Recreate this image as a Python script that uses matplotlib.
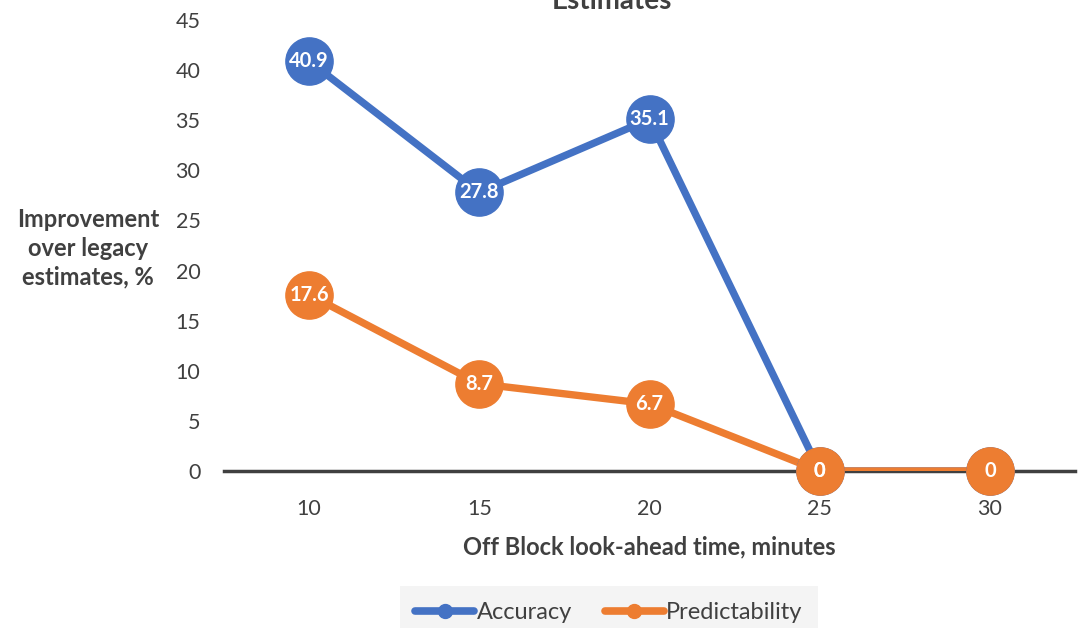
import matplotlib.pyplot as plt

look_ahead = [10, 15, 20, 25, 30]
accuracy = [40.9, 27.8, 35.1, 0, 0]
predictability = [17.6, 8.7, 6.7, 0, 0]
y_ticks = [0, 5, 10, 15, 20, 25, 30, 35, 40, 45]

BLUE = "#4472C4"
ORANGE = "#ED7D31"
TEXT = "#404040"

plt.rcParams["font.family"] = ["Lato", "DejaVu Sans"]

fig = plt.figure(figsize=(10.78, 6.28), dpi=100)
ax = fig.add_axes([224 / 1078, 1 - 471 / 628, 851 / 1078, 451 / 628])

series = [
    ("Accuracy", accuracy, BLUE),
    ("Predictability", predictability, ORANGE),
]

for name, values, color in series:
    # line clipped at the plot area, markers drawn over the edge
    ax.plot(
        look_ahead,
        values,
        color=color,
        linewidth=5.3,
        solid_capstyle="round",
        zorder=3,
    )
    ax.plot(
        look_ahead,
        values,
        linestyle="none",
        marker="o",
        markersize=34,
        color=color,
        clip_on=False,
        zorder=4,
    )
    # legend proxy
    ax.plot(
        [], [],
        color=color,
        linewidth=5.5,
        marker="o",
        markersize=10,
        solid_capstyle="round",
        label=name,
    )
    for x, v in zip(look_ahead, values):
        if name == "Accuracy" and x == 30:
            continue
        ax.text(
            x, v, f"{v:g}",
            color="white",
            fontsize=14.5,
            fontweight="bold",
            ha="center",
            va="center",
            zorder=5,
        )

ax.set_xlim(7.5, 32.5)
ax.set_ylim(0, 45)
ax.set_xticks(look_ahead)
ax.set_yticks(y_ticks)
ax.tick_params(length=0, labelsize=15.5, labelcolor=TEXT)
ax.tick_params(axis="x", pad=20)
ax.tick_params(axis="y", pad=17)

for side in ["top", "right", "left"]:
    ax.spines[side].set_visible(False)
ax.spines["bottom"].set_color("#404040")
ax.spines["bottom"].set_linewidth(2.5)
ax.spines["bottom"].set_zorder(2)

ax.set_xlabel(
    "Off Block look-ahead time, minutes",
    fontsize=17,
    fontweight="bold",
    color=TEXT,
    labelpad=12,
)
fig.text(
    88 / 1078, 1 - 248 / 628,
    "Improvement\nover legacy\nestimates, %",
    fontsize=17,
    fontweight="bold",
    color=TEXT,
    ha="center",
    va="center",
    linespacing=1.3,
)

fig.text(
    612 / 1078, 1 - 9 / 628,
    "Estimates",
    fontsize=20,
    fontweight="bold",
    color=TEXT,
    ha="center",
    va="baseline",
)

leg = fig.legend(
    loc="lower center",
    bbox_to_anchor=(609 / 1078, -0.035),
    ncol=2,
    frameon=True,
    fontsize=17,
    handlelength=2.5,
    columnspacing=1.4,
    handletextpad=0.1,
    borderpad=0.65,
)
leg.get_frame().set_facecolor("#F2F2F2")
leg.get_frame().set_edgecolor("none")
leg.get_frame().set_boxstyle("square", pad=0)
for text in leg.get_texts():
    text.set_color(TEXT)

fig.savefig("out.png", dpi=100)
